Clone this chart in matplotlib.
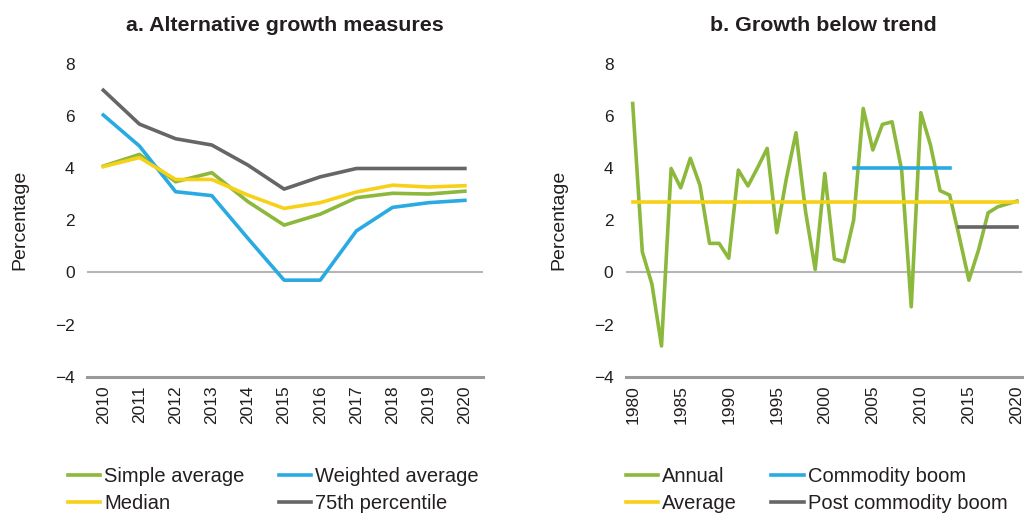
import matplotlib
matplotlib.use('Agg')
import matplotlib.pyplot as plt

plt.rcParams['font.family'] = ['Liberation Sans', 'DejaVu Sans']

# COLOURS

C_GREEN  = '#8cb83c'
C_BLUE   = '#29abe2'
C_YELLOW = '#f7d117'
C_GRAY   = '#666666'
C_TEXT   = '#231f20'

# DATA - panel a

years_a        = [2010, 2011, 2012, 2013, 2014, 2015, 2016, 2017, 2018, 2019, 2020]
simple_avg     = [4.07, 4.52, 3.47, 3.82, 2.71, 1.81, 2.23, 2.86, 3.03, 3.00, 3.11]
weighted_avg   = [6.03, 4.84, 3.09, 2.94, 1.30, -0.30, -0.30, 1.59, 2.49, 2.67, 2.76]
median         = [4.05, 4.40, 3.56, 3.56, 2.96, 2.45, 2.67, 3.08, 3.34, 3.27, 3.32]
pct75          = [6.98, 5.68, 5.12, 4.88, 4.11, 3.19, 3.66, 3.98, 3.98, 3.98, 3.98]

# DATA - panel b

years_b = list(range(1980, 2021))
annual  = [6.47, 0.79, -0.45, -2.82, 3.98, 3.24, 4.37, 3.34, 1.11, 1.11,
           0.54, 3.92, 3.31, 4.01, 4.75, 1.52, 3.60, 5.35, 2.32, 0.11,
           3.79, 0.51, 0.41, 2.00, 6.28, 4.69, 5.67, 5.77, 3.92, -1.32,
           6.12, 4.88, 3.13, 2.96, 1.36, -0.30, 0.85, 2.28, 2.51, 2.62, 2.73]
average_years    = [1980, 2020]
average_val      = [2.71, 2.71]
boom_years       = [2003, 2013]
boom_val         = [4.01, 4.01]
post_boom_years  = [2014, 2020]
post_boom_val    = [1.75, 1.75]

yticks = [-4, -2, 0, 2, 4, 6, 8]
ytick_labels = ['\u22124', '\u22122', '0', '2', '4', '6', '8']


def style_axis(ax, xlim, xticks):
    ax.set_xlim(xlim)
    ax.set_ylim(-4, 8)
    ax.set_yticks(yticks)
    ax.set_yticklabels(ytick_labels)
    ax.set_xticks(xticks)
    ax.set_xticklabels([str(x) for x in xticks], rotation=90)
    for s in ['left', 'right', 'top']:
        ax.spines[s].set_visible(False)
    ax.spines['bottom'].set_color('#9a9a9a')
    ax.spines['bottom'].set_linewidth(2.2)
    ax.axhline(0, color='#b5b5b5', lw=1.5, zorder=1)
    ax.tick_params(axis='both', length=0, labelsize=12.5, colors=C_TEXT)
    ax.tick_params(axis='y', pad=9)
    ax.tick_params(axis='x', pad=6)
    ax.set_ylabel('Percentage', fontsize=14, color=C_TEXT, labelpad=19)


fig = plt.figure(figsize=(10.25, 5.26), dpi=100)

lw = 2.6
leg_props = dict(ncol=2, loc='upper left', frameon=False, fontsize=14.5,
                 handlelength=1.6, handletextpad=0.2, columnspacing=1.7,
                 labelspacing=0.42, borderpad=0, borderaxespad=0,
                 labelcolor=C_TEXT)
order = [0, 2, 1, 3]

# PANEL A

ax1 = fig.add_axes([0.0849, 0.2838, 0.3863, 0.5953])
ax1.plot(years_a, simple_avg, color=C_GREEN, lw=lw, label='Simple average', zorder=3)
ax1.plot(years_a, weighted_avg, color=C_BLUE, lw=lw, label='Weighted average', zorder=3)
ax1.plot(years_a, median, color=C_YELLOW, lw=lw, label='Median', zorder=4)
ax1.plot(years_a, pct75, color=C_GRAY, lw=lw, label='75th percentile', zorder=3)
style_axis(ax1, (2009.55, 2020.5), years_a)
ax1.set_title('a. Alternative growth measures', fontsize=15.4, fontweight='bold',
              color=C_TEXT, x=0.5, pad=0, y=1.105)

h, l = ax1.get_legend_handles_labels()
fig.legend([h[i] for i in order], [l[i] for i in order],
           bbox_to_anchor=(68 / 1025, 1 - 467 / 526), **leg_props)

# PANEL B

ax2 = fig.add_axes([0.6107, 0.2838, 0.3861, 0.5953])
ax2.plot(years_b, annual, color=C_GREEN, lw=lw, label='Annual', zorder=3)
ax2.plot(boom_years, boom_val, color=C_BLUE, lw=lw, label='Commodity boom', zorder=3)
ax2.plot(average_years, average_val, color=C_YELLOW, lw=lw, label='Average', zorder=4)
ax2.plot(post_boom_years, post_boom_val, color=C_GRAY, lw=lw, label='Post commodity boom', zorder=3)
style_axis(ax2, (1979.3, 2020.5), list(range(1980, 2021, 5)))
ax2.set_title('b. Growth below trend', fontsize=15.4, fontweight='bold',
              color=C_TEXT, x=0.5, pad=0, y=1.105)

h, l = ax2.get_legend_handles_labels()
fig.legend([h[i] for i in order], [l[i] for i in order],
           bbox_to_anchor=(626 / 1025, 1 - 467 / 526), **leg_props)

fig.savefig('out.png', dpi=100)
